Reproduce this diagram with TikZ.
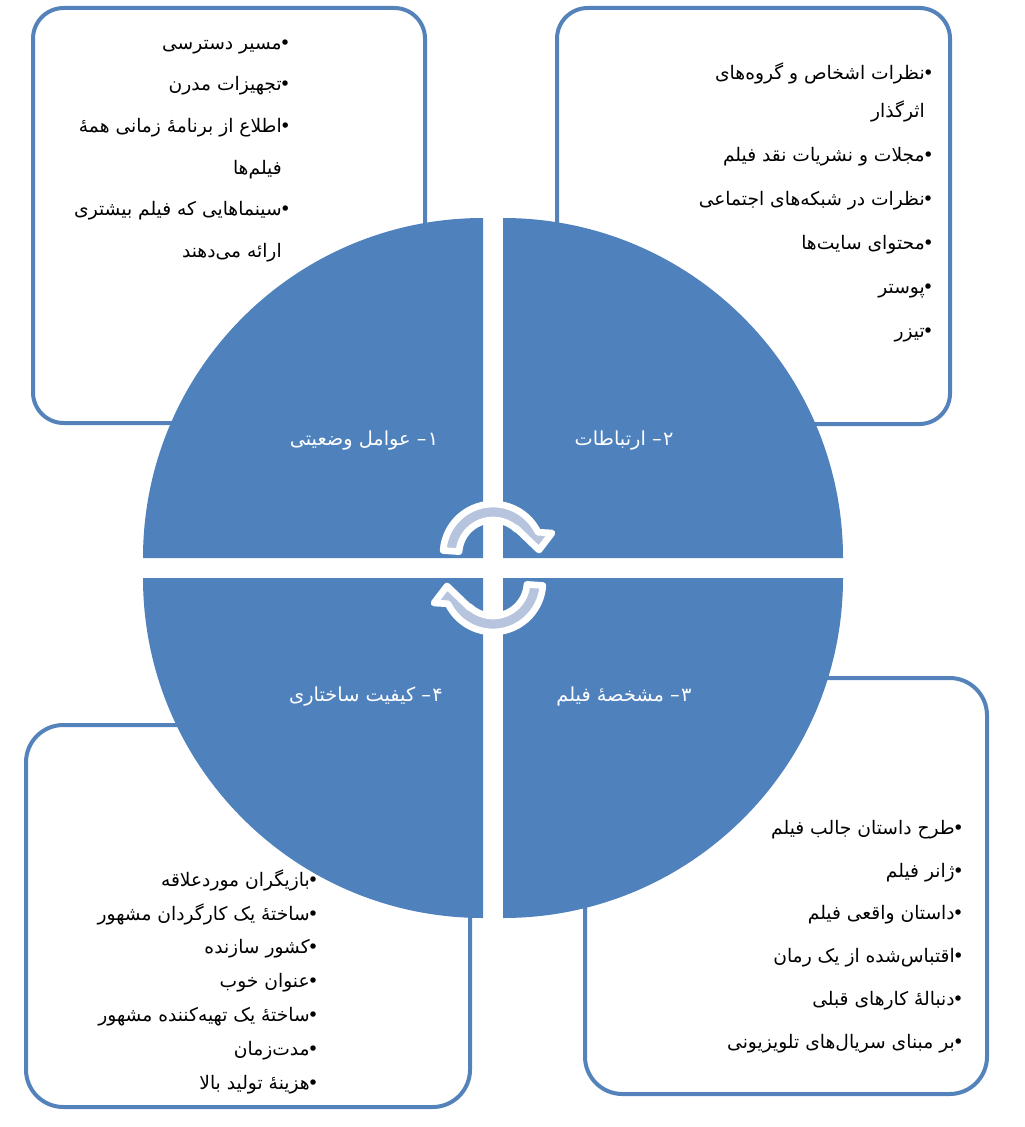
\documentclass[tikz,border=0pt]{standalone}
\usepackage{fontspec}
\newfontfamily\farsi[Script=Arabic]{DejaVu Sans}
\TeXXeTstate=1
\usetikzlibrary{calc}
\definecolor{quadblue}{RGB}{79,129,189}
\definecolor{frameblue}{RGB}{84,130,186}
\definecolor{turnfill}{RGB}{183,196,222}
\begin{document}
\begin{tikzpicture}[
    x=0.75pt, y=0.75pt,
    panel/.style={draw=frameblue, line width=3pt, fill=white},
    quarter/.style={fill=quadblue},
    itemlist/.style={inner sep=0pt, anchor=north east, align=right, font=\farsi\fontsize{14}{#1}\selectfont},
    qlabel/.style={inner sep=0pt, anchor=base, text=white, font=\farsi\fontsize{14.5}{17}\selectfont},
    turnarrow/.style={fill=turnfill, draw=white, line width=5pt, line join=round}
]
    \fill[white] (0,0) rectangle (1024,-1127);

    % Four framed panels behind the circle
    \draw[panel, rounded corners=23pt] (33,-8) rectangle (425,-423);
    \draw[panel, rounded corners=23pt] (557,-8) rectangle (950,-424);
    \draw[panel, rounded corners=28pt] (585,-678) rectangle (987,-1094);
    \draw[panel, rounded corners=28pt] (26,-725) rectangle (470,-1107);

    % Circle cut into four quarters
    \fill[quarter] (483,-558) -- ++(-340,0) arc[start angle=180, end angle=90, radius=340] -- cycle;
    \fill[quarter] (503,-558) -- ++(0,340) arc[start angle=90, end angle=0, radius=340] -- cycle;
    \fill[quarter] (503,-578) -- ++(340,0) arc[start angle=0, end angle=-90, radius=340] -- cycle;
    \fill[quarter] (483,-578) -- ++(0,-340) arc[start angle=270, end angle=180, radius=340] -- cycle;

    % Quarter titles
    \node[qlabel] (situ) at (364,-445) {\beginR ۱\kern1pt– عوامل وضعیتی\endR};
    \node[qlabel] (comm) at (624,-445) {\beginR ۲\kern1pt– ارتباطات\endR};
    \node[qlabel] (film) at (624,-701) {\beginR ۳\kern1pt– مشخصه^^^^0654 فیلم\endR};
    \node[qlabel] (qual) at (366,-701) {\beginR ۴\kern1pt– کیفیت ساختاری\endR};

    % Turning arrows in the middle
    \coordinate (c1) at (493,-554);
    \coordinate (c2) at (493,-582);
    \path[turnarrow] ($(c1)+(176:50)$) arc[start angle=176, end angle=25.8, radius=50]
        -- ($(c1)+(59,21)$) -- ($(c1)+(46,4)$) -- ($(c1)+(23,26)$)
        -- ($(c1)+(46:34)$) arc[start angle=46, end angle=176, radius=34] -- cycle;
    \path[turnarrow] ($(c2)+(356:50)$) arc[start angle=356, end angle=205.8, radius=50]
        -- ($(c2)+(-59,-21)$) -- ($(c2)+(-46,-4)$) -- ($(c2)+(-23,-26)$)
        -- ($(c2)+(226:34)$) arc[start angle=226, end angle=356, radius=34] -- cycle;

    % Panel texts
    \node[itemlist=31.2pt] (situlist) at (291,-30.3) {%
        \rule{0pt}{14pt}\beginR•\kern-1.5pt مسیر دسترسی\endR\\
        \beginR•\kern-1.5pt تجهیزات مدرن\endR\\
        \beginR•\kern-1.5pt اطلاع از برنامه^^^^0654 زمانی همه^^^^0654\endR\\
        \beginR فیلم^^^^200cها\endR\hphantom{•}\kern-1.5pt\\
        \beginR•\kern-1.5pt سینماهایی که فیلم بیشتری\endR\\
        \beginR ارائه می^^^^200cدهند\endR\hphantom{•}\kern-1.5pt};
    \node[itemlist=33pt] (commlist) at (934,-60.3) {%
        \rule{0pt}{14pt}\beginR•\kern-1.5pt نظرات اشخاص و گروه^^^^200cهای\endR\\[-4.5pt]
        \beginR اثرگذار\endR\hphantom{•}\kern-1.5pt\\
        \beginR•\kern-1.5pt مجلات و نشریات نقد فیلم\endR\\
        \beginR•\kern-1.5pt نظرات در شبکه^^^^200cهای اجتماعی\endR\\
        \beginR•\kern-1.5pt محتوای سایت^^^^200cها\endR\\
        \beginR•\kern-1.5pt پوستر\endR\\
        \beginR•\kern-1.5pt تیزر\endR};
    \node[itemlist=32.1pt] (filmlist) at (964,-815.3) {%
        \rule{0pt}{14pt}\beginR•\kern-1.5pt طرح داستان جالب فیلم\endR\\
        \beginR•\kern-1.5pt ژانر فیلم\endR\\
        \beginR•\kern-1.5pt داستان واقعی فیلم\endR\\
        \beginR•\kern-1.5pt اقتباس^^^^200cشده از یک رمان\endR\\
        \beginR•\kern-1.5pt دنباله^^^^0654 کارهای قبلی\endR\\
        \beginR•\kern-1.5pt بر مبنای سریال^^^^200cهای تلویزیونی\endR};
    \node[itemlist=25.4pt] (quallist) at (319,-867.3) {%
        \rule{0pt}{14pt}\beginR•\kern-1.5pt بازیگران موردعلاقه\endR\\
        \beginR•\kern-1.5pt ساخته^^^^0654 یک کارگردان مشهور\endR\\
        \beginR•\kern-1.5pt کشور سازنده\endR\\
        \beginR•\kern-1.5pt عنوان خوب\endR\\
        \beginR•\kern-1.5pt ساخته^^^^0654 یک تهیه^^^^200cکننده مشهور\endR\\
        \beginR•\kern-1.5pt مدت^^^^200cزمان\endR\\
        \beginR•\kern-1.5pt هزینه^^^^0654 تولید بالا\endR};
\end{tikzpicture}
\end{document}
